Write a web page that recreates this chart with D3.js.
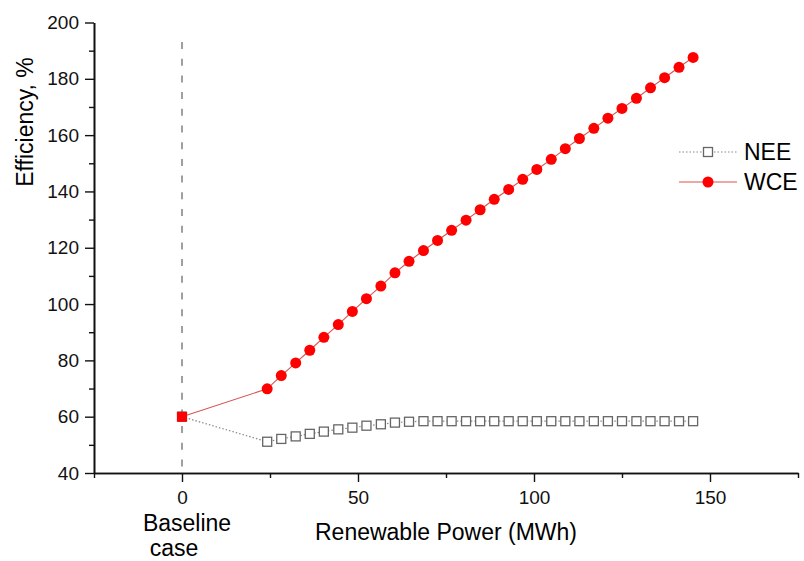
<!DOCTYPE html>
<html>
<head>
<meta charset="utf-8">
<script src="https://cdn.jsdelivr.net/npm/d3@7.9.0/dist/d3.min.js"></script>
<style>
  body { margin: 0; background: #fff; }
  svg { display: block; font-family: "Liberation Sans", Arial, sans-serif; }
  .axis path, .axis line { stroke: #111; }
  .axis text { fill: #111; font-size: 19px; font-family: "Liberation Sans", Arial, sans-serif; }
</style>
</head>
<body>
<svg width="804" height="561"></svg>
<script>
// renewable power (MWh) for each case, baseline first
const power = [0, 24.2, 28.2, 32.3, 36.3, 40.3, 44.4, 48.4, 52.4, 56.5, 60.5,
    64.5, 68.6, 72.6, 76.6, 80.7, 84.7, 88.7, 92.8, 96.8, 100.8,
    104.9, 108.9, 112.9, 117.0, 121.0, 125.0, 129.1, 133.1, 137.1, 141.2, 145.2];

const nee = [60, 51.1, 52.1, 53.0, 53.9, 54.7, 55.5, 56.1, 56.8, 57.3, 57.9,
    58.2, 58.4, 58.4, 58.4, 58.4, 58.4, 58.4, 58.4, 58.4, 58.4,
    58.4, 58.4, 58.4, 58.4, 58.4, 58.4, 58.4, 58.4, 58.4, 58.4, 58.4];

const wce = [60, 69.9, 74.6, 79.1, 83.6, 88.2, 92.7, 97.4, 101.9, 106.4, 111.1,
    115.2, 119.0, 122.6, 126.2, 129.8, 133.5, 137.2, 140.7, 144.3, 147.8,
    151.4, 155.2, 158.8, 162.4, 166.0, 169.5, 173.1, 176.8, 180.4, 184.1, 187.6];

const xMajor = [0, 50, 100, 150];
const xMinor = [-25, 25, 75, 125, 175];
const yMajor = [40, 60, 80, 100, 120, 140, 160, 180, 200];
const yMinor = [50, 70, 90, 110, 130, 150, 170, 190];

const svg = d3.select('svg');

const x = d3.scaleLinear().domain([-25, 175]).range([94, 798]);
const y = d3.scaleLinear().domain([40, 200]).range([473, 22.5]);

// minor ticks first, then major with labels
svg.append('g').attr('class', 'axis')
    .attr('transform', `translate(0,${y(40)})`)
    .call(d3.axisBottom(x).tickValues(xMinor).tickSize(5).tickSizeOuter(0).tickFormat(''));
svg.append('g').attr('class', 'axis')
    .attr('transform', `translate(0,${y(40)})`)
    .call(d3.axisBottom(x).tickValues(xMajor).tickSize(9).tickSizeOuter(0).tickPadding(9));

svg.append('g').attr('class', 'axis')
    .attr('transform', `translate(${x(-25)},0)`)
    .call(d3.axisLeft(y).tickValues(yMinor).tickSize(5).tickSizeOuter(0).tickFormat(''));
svg.append('g').attr('class', 'axis')
    .attr('transform', `translate(${x(-25)},0)`)
    .call(d3.axisLeft(y).tickValues(yMajor).tickSize(9).tickSizeOuter(0).tickPadding(6));

svg.selectAll('.axis path.domain').attr('stroke-width', 1.6);
svg.selectAll('.axis line').attr('stroke-width', 1.4);

// baseline marker line
svg.append('line')
    .attr('x1', x(0)).attr('x2', x(0))
    .attr('y1', 42).attr('y2', y(40))
    .attr('stroke', '#777').attr('stroke-width', 1.4)
    .attr('stroke-dasharray', '7,9.7');

const pts = power.map((p, i) => ({ p, n: nee[i], w: wce[i] }));

const line = (key) => d3.line().x(d => x(d.p)).y(d => y(d[key]));

svg.append('path').datum(pts)
    .attr('d', line('n'))
    .attr('fill', 'none').attr('stroke', '#888').attr('stroke-width', 1.2)
    .attr('stroke-dasharray', '1.5,2');

svg.append('path').datum(pts)
    .attr('d', line('w'))
    .attr('fill', 'none').attr('stroke', '#d9534f').attr('stroke-width', 1.1);

svg.selectAll('rect.nee').data(pts).enter().append('rect')
    .attr('class', 'nee')
    .attr('x', d => x(d.p) - 4.5).attr('y', d => y(d.n) - 4.5)
    .attr('width', 9).attr('height', 9)
    .attr('fill', '#fff').attr('stroke', '#666').attr('stroke-width', 1.3);

svg.selectAll('circle.wce').data(pts.filter(d => d.p > 0)).enter().append('circle')
    .attr('class', 'wce')
    .attr('cx', d => x(d.p)).attr('cy', d => y(d.w)).attr('r', 5.5)
    .attr('fill', '#ff0000');

// baseline case drawn as a filled square
svg.selectAll('rect.base').data(pts.filter(d => d.p === 0)).enter().append('rect')
    .attr('class', 'base')
    .attr('x', d => x(d.p) - 5).attr('y', d => y(d.w) - 5)
    .attr('width', 10).attr('height', 10).attr('rx', 1)
    .attr('fill', '#ff0000');

// legend
const lg = svg.append('g');
lg.append('line').attr('x1', 679).attr('x2', 737).attr('y1', 152).attr('y2', 152)
    .attr('stroke', '#888').attr('stroke-width', 1.2).attr('stroke-dasharray', '1.5,2');
lg.append('rect').attr('x', 703.5).attr('y', 147.5).attr('width', 9).attr('height', 9)
    .attr('fill', '#fff').attr('stroke', '#666').attr('stroke-width', 1.3);
lg.append('text').attr('x', 744).attr('y', 160).attr('font-size', 23).text('NEE');

lg.append('line').attr('x1', 679).attr('x2', 737).attr('y1', 182).attr('y2', 182)
    .attr('stroke', '#d9534f').attr('stroke-width', 1.1);
lg.append('circle').attr('cx', 708).attr('cy', 182).attr('r', 5.5).attr('fill', '#ff0000');
lg.append('text').attr('x', 744).attr('y', 190).attr('font-size', 23).text('WCE');

// titles
svg.append('text')
    .attr('x', 446).attr('y', 540).attr('text-anchor', 'middle')
    .attr('font-size', 23).text('Renewable Power (MWh)');

svg.append('text')
    .attr('transform', 'translate(33,122) rotate(-90)')
    .attr('text-anchor', 'middle').attr('font-size', 23).text('Efficiency, %');

svg.append('text')
    .attr('x', 187).attr('y', 531).attr('text-anchor', 'middle')
    .attr('font-size', 23).text('Baseline');
svg.append('text')
    .attr('x', 174).attr('y', 556).attr('text-anchor', 'middle')
    .attr('font-size', 23).text('case');
</script>
</body>
</html>
